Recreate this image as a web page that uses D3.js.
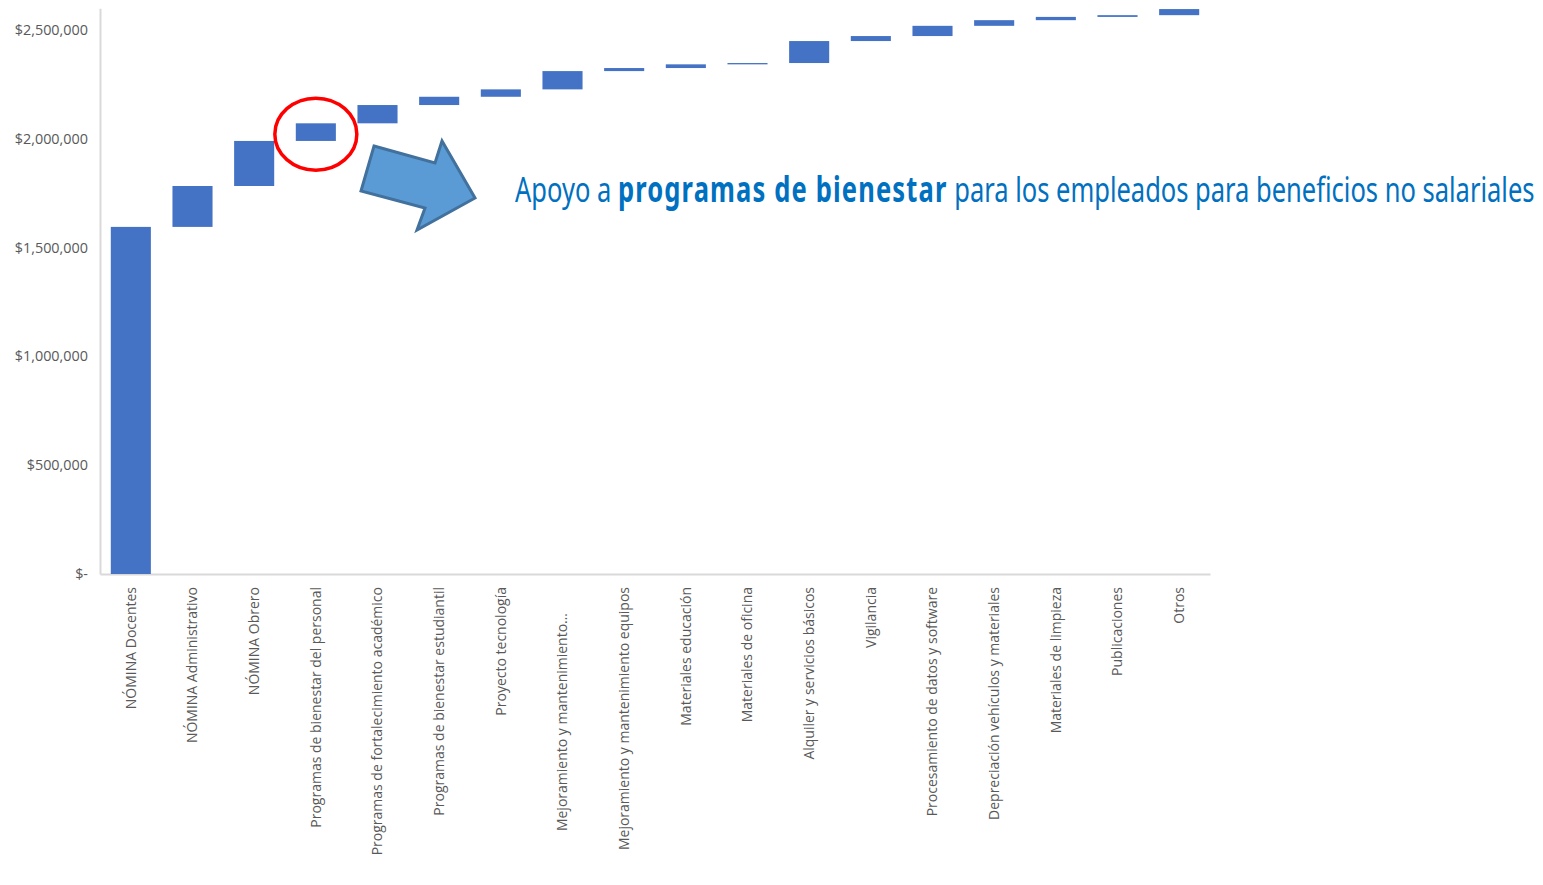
<!DOCTYPE html>
<html>
<head>
<meta charset="utf-8">
<script src="https://cdn.jsdelivr.net/npm/d3@7"></script>
<style>
  html, body { margin: 0; padding: 0; background: #ffffff; }
  svg { display: block; }
</style>
</head>
<body>
<svg id="chart" width="1543" height="885"></svg>
<script>
const categories = [
  "NÓMINA Docentes",
  "NÓMINA Administrativo",
  "NÓMINA Obrero",
  "Programas de bienestar del personal",
  "Programas de fortalecimiento académico",
  "Programas de bienestar estudiantil",
  "Proyecto tecnología",
  "Mejoramiento y mantenimiento…",
  "Mejoramiento y mantenimiento equipos",
  "Materiales educación",
  "Materiales de oficina",
  "Alquiler y servicios básicos",
  "Vigilancia",
  "Procesamiento de datos y software",
  "Depreciación vehículos y materiales",
  "Materiales de limpieza",
  "Publicaciones",
  "Otros"
];
const values = [
  1595000, 188000, 207000, 81000, 84000, 38000, 34000, 84000, 14000,
  17000, 6000, 101000, 23000, 47000, 26000, 15000, 8000, 28000
];
const yTicks = [0, 500000, 1000000, 1500000, 2000000, 2500000];
const highlightCategory = "Programas de bienestar del personal";
const annotationParts = [
  { text: "Apoyo a ", bold: false },
  { text: "programas de bienestar", bold: true },
  { text: " para los empleados para beneficios no salariales", bold: false }
];

// waterfall table
let running = 0;
const rows = categories.map((c, i) => {
  const start = running;
  running += values[i];
  return { category: c, start: start, end: running, value: values[i] };
});

const svg = d3.select("#chart");
const margin = { left: 100, right: 333, top: 8.2, bottom: 311 };
const W = 1543, H = 885;

const x = d3.scaleBand()
  .domain(categories)
  .range([margin.left, W - margin.right])
  .paddingInner(0.35)
  .paddingOuter(0.175);

const y = d3.scaleLinear()
  .domain([0, 2600000])
  .range([H - margin.bottom, margin.top]);

const labelColor = "#595959";
const axisColor = "#d9d9d9";

// Y axis
const yAxis = svg.append("g")
  .attr("transform", `translate(${margin.left},0)`)
  .call(d3.axisLeft(y)
    .tickValues(yTicks)
    .tickSize(0)
    .tickPadding(12)
    .tickFormat(d => d === 0 ? "$-" : "$" + d3.format(",")(d)));
yAxis.select(".domain").attr("stroke", axisColor).attr("stroke-width", 2);
yAxis.selectAll("text")
  .attr("fill", labelColor)
  .style("font-family", "'Open Sans', sans-serif")
  .style("font-size", "14.4px");

// X axis
const xAxis = svg.append("g")
  .attr("transform", `translate(0,${y(0)})`)
  .call(d3.axisBottom(x).tickSize(0));
xAxis.select(".domain").attr("stroke", axisColor).attr("stroke-width", 2);
xAxis.selectAll("text")
  .attr("transform", "rotate(-90)")
  .attr("x", d => d.endsWith("…") ? -39 : -13)
  .attr("y", 0)
  .attr("dy", "0.35em")
  .style("text-anchor", "end")
  .attr("fill", labelColor)
  .style("font-family", "'Open Sans', sans-serif")
  .style("font-size", "14px");

// Bars
svg.append("g").selectAll("rect")
  .data(rows)
  .join("rect")
  .attr("x", d => x(d.category))
  .attr("width", x.bandwidth())
  .attr("y", d => y(d.end))
  .attr("height", d => Math.max(1, y(d.start) - y(d.end)))
  .attr("fill", "#4472C4");

// Highlight ellipse
const hl = rows.find(r => r.category === highlightCategory);
svg.append("ellipse")
  .attr("cx", x(hl.category) + x.bandwidth() / 2)
  .attr("cy", y((hl.start + hl.end) / 2) + 2)
  .attr("rx", 41)
  .attr("ry", 36)
  .attr("fill", "none")
  .attr("stroke", "#FF0000")
  .attr("stroke-width", 3.5);

// Block arrow
const arrowPts = [[374,146],[435,163],[442,141],[475,198],[417,230],[425,208],[361,191]];
svg.append("polygon")
  .attr("points", arrowPts.map(p => p.join(",")).join(" "))
  .attr("fill", "#5B9BD5")
  .attr("stroke", "#41719C")
  .attr("stroke-width", 3)
  .attr("stroke-linejoin", "miter");

// Annotation text
const ann = svg.append("text")
  .attr("x", 0)
  .attr("y", 0)
  .attr("fill", "#0070C0")
  .attr("xml:space", "preserve")
  .style("white-space", "pre")
  .style("font-family", "'Noto Sans', sans-serif")
  .style("font-size", "35px");
ann.selectAll("tspan")
  .data(annotationParts)
  .join("tspan")
  .attr("font-weight", d => d.bold ? 700 : 400)
  .style("letter-spacing", d => d.bold ? "1.6px" : "0px")
  .text(d => d.text);
const natural = ann.node().getBBox().width;
const targetW = 1020;
ann.attr("transform", `translate(515,202) scale(${targetW / natural},1)`);
</script>
</body>
</html>
